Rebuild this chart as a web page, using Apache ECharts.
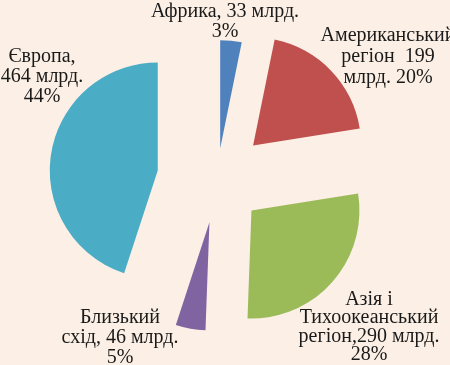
<!DOCTYPE html>
<html>
<head>
<meta charset="utf-8">
<script src="https://cdn.jsdelivr.net/npm/echarts@6/dist/echarts.min.js"></script>
<style>
  html, body { margin: 0; padding: 0; background: #fcf0e6; }
  #main { width: 450px; height: 365px; }
</style>
</head>
<body>
<div id="main"></div>
<script>
// дані
const names = ['Африка', 'Американський\nрегіон', 'Азія і\nТихоокеанський\nрегіон', 'Близький\nсхід', 'Європа'];
const values = [33, 199, 290, 46, 464];
const percents = [3, 20, 28, 5, 44];
const labelTpl = ['{n}, {v} млрд.\n{p}%', '{n}  {v}\nмлрд. {p}%', '{n},{v} млрд.\n{p}%', '{n}, {v} млрд.\n{p}%', '{n},\n{v} млрд.\n{p}%'];

// оформлення
const colors = ['#4f81bd', '#c0504d', '#9bbb59', '#8064a2', '#4bacc6'];
const baseCenter = [217, 180];
const radius = 108;
const explode = [32, 50, 46, 43, 60]; // зсув кожного сектора вздовж бісектриси
const labelPos = [[225, 2, 20], [388, 25, 21], [369, 290, 18.5], [120, 308, 20], [42, 47, 20]];

const chart = echarts.init(document.getElementById('main'));
const total = values.reduce((a, b) => a + b, 0);

let series = [];
let acc = 0;
values.forEach((v, i) => {
    const mid = (acc + v / 2) / total * 2 * Math.PI;
    acc += v;
    const d = explode[i];
    series.push({
        type: 'pie',
        silent: true,
        startAngle: 90,
        clockwise: true,
        radius: radius,
        center: [baseCenter[0] + d * Math.sin(mid), baseCenter[1] - d * Math.cos(mid)],
        label: { show: false },
        labelLine: { show: false },
        emphasis: { disabled: true },
        animation: false,
        data: values.map((val, j) => ({
            value: val,
            name: names[j],
            itemStyle: { color: j === i ? colors[j] : 'rgba(0,0,0,0)', borderWidth: 0 }
        }))
    });
});

const texts = labelTpl.map((t, i) => ({
    type: 'text',
    x: labelPos[i][0],
    y: labelPos[i][1],
    silent: true,
    style: {
        text: t.replace('{n}', names[i]).replace('{v}', values[i]).replace('{p}', percents[i]),
        fontFamily: 'Liberation Serif',
        fontSize: 20,
        lineHeight: labelPos[i][2],
        fill: '#1a1a1a',
        align: 'center',
        textAlign: 'center',
        verticalAlign: 'top'
    }
}));

chart.setOption({
    backgroundColor: '#fcf0e6',
    series: series,
    graphic: texts
});
</script>
</body>
</html>
